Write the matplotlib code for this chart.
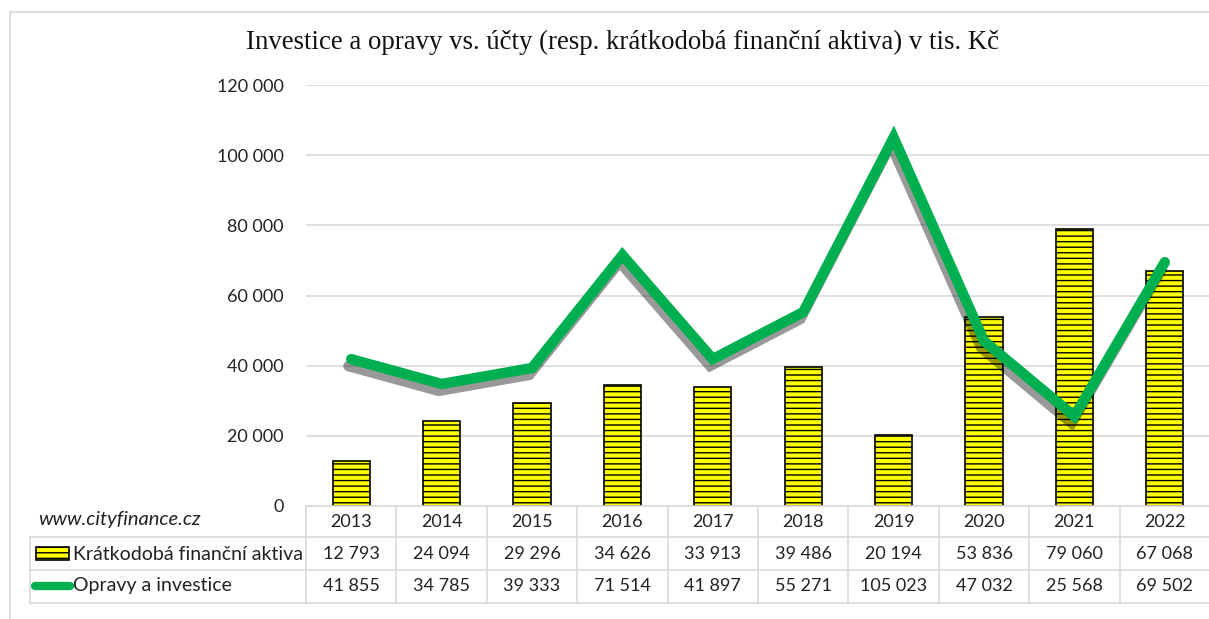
import numpy as np
import matplotlib.pyplot as plt
import matplotlib.patheffects as pe
from matplotlib.lines import Line2D
from matplotlib.patches import Rectangle

roky = ['2013', '2014', '2015', '2016', '2017', '2018', '2019', '2020', '2021', '2022']
aktiva = [12793, 24094, 29296, 34626, 33913, 39486, 20194, 53836, 79060, 67068]
opravy = [41855, 34785, 39333, 71514, 41897, 55271, 105023, 47032, 25568, 69502]
y_ticks = [0, 20000, 40000, 60000, 80000, 100000, 120000]

nazev_aktiva = 'Krátkodobá finanční aktiva'
nazev_opravy = 'Opravy a investice'
titulek = 'Investice a opravy vs. účty (resp. krátkodobá finanční aktiva) v tis. Kč'

W, H = 1209, 619
plt.rcParams['font.family'] = ['Lato', 'DejaVu Sans']
plt.rcParams['hatch.linewidth'] = 1.0


def fmt(v):
    return f'{v:,}'.replace(',', ' ')


def fx(px):
    return px / W


def fy(py):
    return 1 - py / H


fig = plt.figure(figsize=(W / 100, H / 100), dpi=100)
left, right, top, bottom = 306, 1210, 85, 506
ax = fig.add_axes([fx(left), fy(bottom), fx(right - left), (bottom - top) / H])

x = np.arange(len(roky))
ax.bar(x, aktiva, width=0.41, color='#FFFF00', edgecolor='black', hatch='---',
       linewidth=1.2, zorder=2)
ax.plot(x, opravy, color='#00B050', linewidth=7.5, solid_capstyle='round',
        solid_joinstyle='miter', zorder=3,
        path_effects=[pe.SimpleLineShadow(offset=(-2, -5), shadow_color='black', alpha=0.4),
                      pe.Normal()])

ax.set_xlim(-0.5, len(roky) - 0.5)
ax.set_ylim(0, 120000)
ax.set_yticks(y_ticks)
ax.set_yticklabels([fmt(v) for v in y_ticks], fontsize=13, color='#222222')
ax.tick_params(axis='y', length=0, pad=16)
ax.set_xticks([])
ax.grid(axis='y', color='#d9d9d9', linewidth=1.2, zorder=0)
ax.set_axisbelow(True)
for s in ax.spines.values():
    s.set_visible(False)

fig.text(fx(622), fy(42), titulek, family='Liberation Serif', fontsize=19.3,
         ha='center', va='center', color='#111111')

# tabulka pod grafem
rows = [506, 537, 570, 603]
col_w = (right - left) / len(roky)
gc = '#d9d9d9'
for r in rows:
    x0 = 30 if r != rows[0] else left
    fig.add_artist(Line2D([fx(x0), fx(right)], [fy(r), fy(r)], color=gc, lw=1.2))
for i in range(len(roky) + 1):
    xc = left + i * col_w
    fig.add_artist(Line2D([fx(xc), fx(xc)], [fy(rows[0]), fy(rows[-1])], color=gc, lw=1.2))
fig.add_artist(Line2D([fx(30), fx(30)], [fy(rows[1]), fy(rows[-1])], color=gc, lw=1.2))

for i, rok in enumerate(roky):
    xc = fx(left + (i + 0.5) * col_w)
    fig.text(xc, fy(522), rok, ha='center', va='center', fontsize=13, color='#222222')
    fig.text(xc, fy(554), fmt(aktiva[i]), ha='center', va='center', fontsize=13, color='#222222')
    fig.text(xc, fy(586), fmt(opravy[i]), ha='center', va='center', fontsize=13, color='#222222')

fig.text(fx(38), fy(520), 'www.cityfinance.cz', style='italic',
         ha='left', va='center', fontsize=14.5, color='#222222')
fig.add_artist(Rectangle((fx(36), fy(560)), fx(33), 13 / H, facecolor='#FFFF00',
                         edgecolor='black', hatch='---', lw=1.2))
fig.text(fx(73), fy(554), nazev_aktiva, ha='left', va='center', fontsize=14, color='#222222')
fig.add_artist(Line2D([fx(35), fx(70)], [fy(586), fy(586)], color='#00B050', lw=6,
                      solid_capstyle='round'))
fig.text(fx(73), fy(586), nazev_opravy, ha='left', va='center', fontsize=14, color='#222222')

# rámeček grafu
fig.add_artist(Line2D([fx(10), fx(1209)], [fy(12), fy(12)], color=gc, lw=1.2))
fig.add_artist(Line2D([fx(10), fx(10)], [fy(12), fy(619)], color=gc, lw=1.2))

fig.savefig('out.png', dpi=100)
